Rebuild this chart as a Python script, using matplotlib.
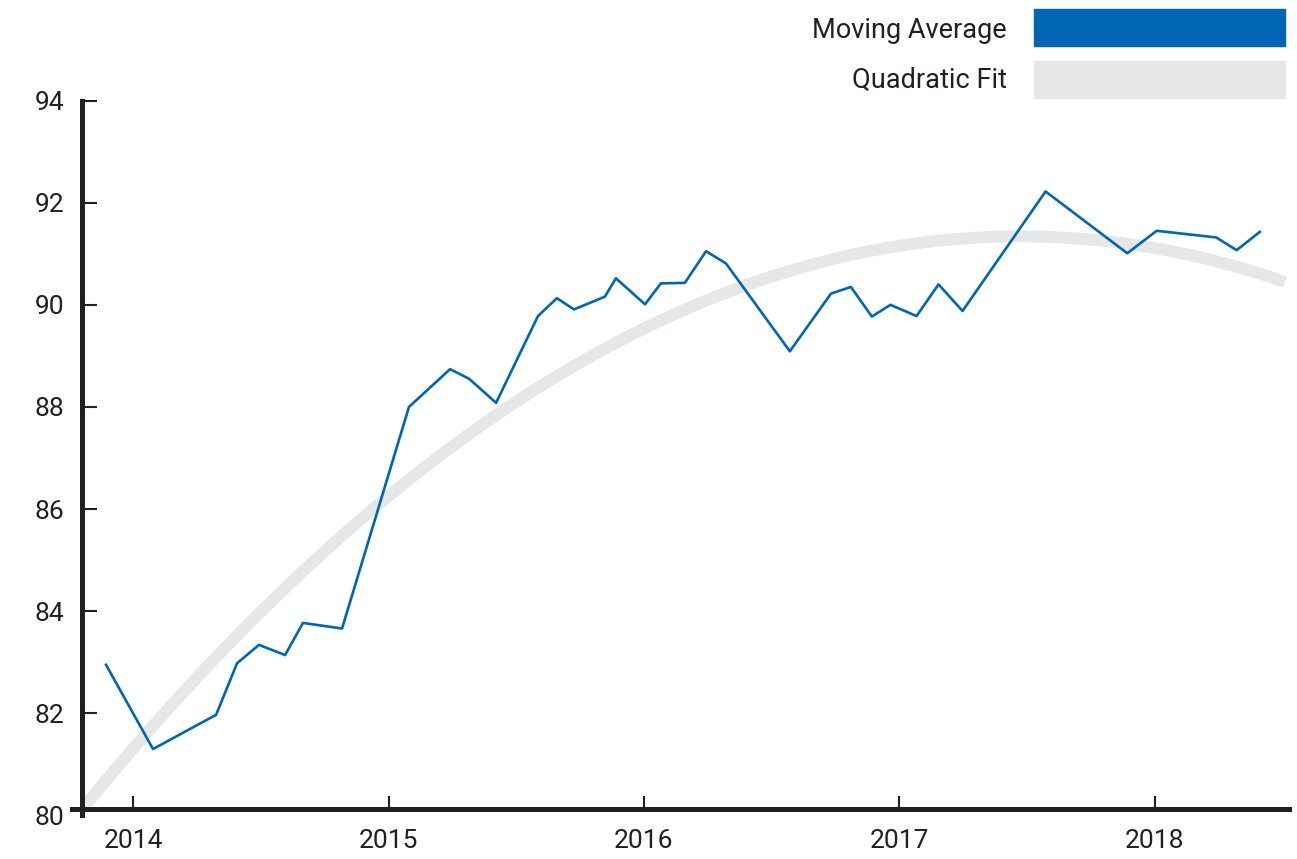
import numpy as np
import matplotlib.pyplot as plt
from matplotlib.patches import Rectangle

plt.rcParams['font.family'] = ['Roboto', 'DejaVu Sans']

# moving average (decimal year, value)
ma_years = [2013.894, 2014.078, 2014.325, 2014.407, 2014.493, 2014.595, 2014.665, 2014.818,
            2015.080, 2015.241, 2015.316, 2015.421, 2015.585, 2015.659, 2015.726, 2015.847,
            2015.890, 2016.004, 2016.066, 2016.160, 2016.243, 2016.321, 2016.571, 2016.732,
            2016.810, 2016.892, 2016.965, 2017.067, 2017.153, 2017.247, 2017.572, 2017.892,
            2018.007, 2018.240, 2018.320, 2018.411]
ma_values = [82.95, 81.30, 81.97, 82.98, 83.34, 83.14, 83.77, 83.66,
             88.00, 88.74, 88.55, 88.08, 89.78, 90.13, 89.91, 90.16,
             90.52, 90.01, 90.42, 90.43, 91.05, 90.81, 89.09, 90.22,
             90.35, 89.77, 90.00, 89.78, 90.40, 89.88, 92.22, 91.01,
             91.45, 91.32, 91.07, 91.43]

# points
fit_years = [2013.83, 2014.26, 2014.78, 2016.06, 2016.45, 2016.69, 2017.48, 2018.50]
fit_values = [80.22, 82.85, 85.33, 89.64, 90.45, 90.84, 91.35, 90.47]

year_ticks = [2014, 2015, 2016, 2017, 2018]
value_ticks = [80, 82, 84, 86, 88, 90, 92, 94]

BLUE = '#0066b3'
GREY = '#e6e7e8'
DARK = '#231f20'
W, H = 1297, 859

fig = plt.figure(figsize=(W / 100, H / 100), dpi=100)
ax = fig.add_axes([82 / W, (H - 815.4) / H, (1289 - 82) / W, (815.4 - 100.6) / H])

# quadratic fit through the read points
coef = np.polyfit(np.array(fit_years) - 2016, fit_values, 2)
xs = np.linspace(2013.80, 2018.51, 300)
ax.plot(xs, np.polyval(coef, xs - 2016), color=GREY, lw=8.6, solid_capstyle='butt', zorder=1)

ax.plot(ma_years, ma_values, color=BLUE, lw=1.9, zorder=2)

ax.set_xlim(2013.80, 2018.525)
ax.set_ylim(80, 94)
ax.set_xticks(year_ticks)
ax.set_xticklabels([str(y) for y in year_ticks])
ax.set_yticks(value_ticks)

for s in ['top', 'right']:
    ax.spines[s].set_visible(False)
for s in ['left', 'bottom']:
    ax.spines[s].set_linewidth(3.6)
    ax.spines[s].set_color(DARK)
ax.spines['bottom'].set_position(('outward', -4.3))
ax.spines['bottom'].set_bounds(2013.76, 2018.525)

ax.tick_params(axis='y', direction='in', length=10.8, width=1.5, color=DARK,
               labelsize=19, labelcolor=DARK, pad=13)
ax.tick_params(axis='x', direction='in', length=9.4, width=1.5, color=DARK,
               labelsize=19, labelcolor=DARK, pad=14)
ax.yaxis.get_major_ticks()[0].tick1line.set_visible(False)

# legend drawn by hand at the top right
fig.patches.append(Rectangle((1034 / W, (H - 46) / H), 251 / W, 37 / H,
                             transform=fig.transFigure, color=BLUE))
fig.patches.append(Rectangle((1034 / W, (H - 98) / H), 251 / W, 37 / H,
                             transform=fig.transFigure, color=GREY))
fig.text(1007 / W, (H - 30) / H, 'Moving Average', ha='right', va='center',
         fontsize=19.5, color=DARK)
fig.text(1007 / W, (H - 80) / H, 'Quadratic Fit', ha='right', va='center',
         fontsize=19.5, color=DARK)

fig.savefig('out.png', dpi=100)
